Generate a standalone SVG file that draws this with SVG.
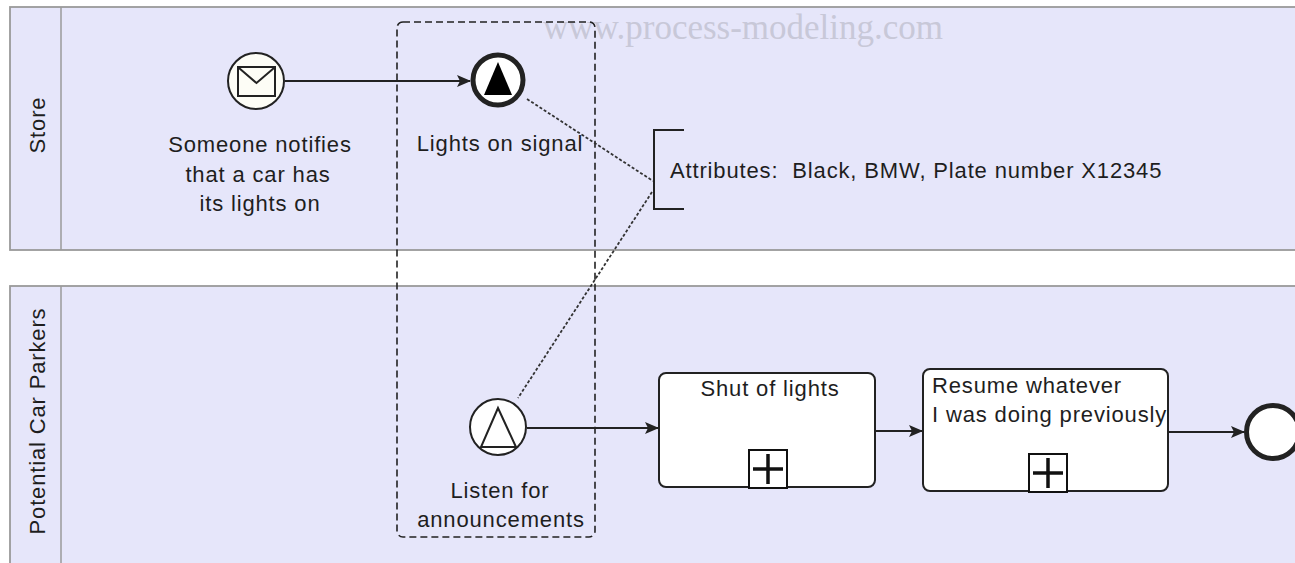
<svg xmlns="http://www.w3.org/2000/svg" width="1295" height="563" viewBox="0 0 1295 563">
<style>
.pool{fill:#e6e6fa;stroke:#9a9a9a;stroke-width:1.8}
.hdr{fill:none;stroke:#9a9a9a;stroke-width:1.5}
.t{font-family:"Liberation Sans",Arial,sans-serif;font-size:22px;letter-spacing:0.85px;fill:#1e1e1e}
.tm{text-anchor:middle}
.flow{fill:none;stroke:#222;stroke-width:2}
.assoc{fill:none;stroke:#333;stroke-width:1.8;stroke-dasharray:3 2}
.task{fill:#fff;stroke:#222;stroke-width:2}
.plus{fill:#fff;stroke:#111;stroke-width:2}
.plusl{stroke:#111;stroke-width:3.5}
</style>
<defs>
<marker id="arr" markerWidth="14" markerHeight="12" refX="13" refY="6" orient="auto" markerUnits="userSpaceOnUse">
<path d="M0,0 L14,6 L0,12 L3,6 Z" fill="#222"/>
</marker>
</defs>
<rect width="1295" height="563" fill="#fff"/>
<g id="pool-store">
<rect class="pool" x="10" y="7" width="1300" height="243"/>
<line class="hdr" x1="61" y1="7" x2="61" y2="250"/>
<text class="t tm" transform="translate(45,125) rotate(-90)">Store</text>
</g>
<g id="pool-parkers">
<rect class="pool" x="10" y="286" width="1300" height="290"/>
<line class="hdr" x1="61" y1="286" x2="61" y2="570"/>
<text class="t tm" transform="translate(45,421) rotate(-90)">Potential Car Parkers</text>
</g>
<text id="watermark" x="743" y="39" text-anchor="middle" font-family="'Liberation Serif','Times New Roman',serif" font-size="35" fill="#c8c8d8">www.process-modeling.com</text>
<g id="group">
<rect x="397" y="22" width="198" height="515" rx="6" fill="none" stroke="#222" stroke-width="1.6" stroke-dasharray="7 4"/>
</g>
<g id="connectors">
<line class="flow" x1="285" y1="81" x2="470" y2="81" marker-end="url(#arr)"/>
<line class="flow" x1="527" y1="428" x2="658" y2="428" marker-end="url(#arr)"/>
<line class="flow" x1="876" y1="431" x2="922" y2="431" marker-end="url(#arr)"/>
<line class="flow" x1="1169" y1="432" x2="1244" y2="432" marker-end="url(#arr)"/>
<line class="assoc" x1="527" y1="99" x2="653" y2="181"/>
<line class="assoc" x1="652" y1="192" x2="518" y2="398"/>
</g>
<g id="ev-message">
<circle cx="256" cy="81" r="28" fill="#fdfdf6" stroke="#222" stroke-width="2"/>
<rect x="238" y="67" width="37" height="29" fill="#fdfdf6" stroke="#222" stroke-width="2"/>
<path d="M239,68 L256.5,83 L274,68" fill="none" stroke="#222" stroke-width="2"/>
<text class="t tm" x="260" y="152">Someone notifies</text>
<text class="t tm" x="258" y="182">that a car has</text>
<text class="t tm" x="260" y="211">its lights on</text>
</g>
<g id="ev-signal-end">
<circle cx="498" cy="80" r="25" fill="#fff" stroke="#222" stroke-width="5"/>
<path d="M498,62 L484,95 L512,95 Z" fill="#000"/>
<text class="t tm" x="500" y="151">Lights on signal</text>
</g>
<g id="annotation">
<path d="M684,130 L654,130 L654,209 L684,209" fill="none" stroke="#222" stroke-width="2"/>
<text class="t" x="670" y="178" xml:space="preserve">Attributes:  Black, BMW, Plate number X12345</text>
</g>
<g id="ev-signal-start">
<circle cx="498" cy="427" r="28" fill="#fff" stroke="#222" stroke-width="2"/>
<path d="M498,408 L481,447 L516,447 Z" fill="none" stroke="#222" stroke-width="2"/>
<text class="t tm" x="500" y="498">Listen for</text>
<text class="t tm" x="501" y="527">announcements</text>
</g>
<g id="task-shut">
<rect class="task" x="659" y="373" width="216" height="114" rx="7"/>
<text class="t tm" x="770" y="396">Shut of lights</text>
<rect class="plus" x="749" y="450" width="38" height="38"/>
<line class="plusl" x1="753" y1="469" x2="783" y2="469"/>
<line class="plusl" x1="768" y1="454" x2="768" y2="484"/>
</g>
<g id="task-resume">
<rect class="task" x="923" y="369" width="245" height="122" rx="7"/>
<text class="t" x="932" y="393">Resume whatever</text>
<text class="t" x="932" y="422">I was doing previously</text>
<rect class="plus" x="1029" y="454" width="38" height="38"/>
<line class="plusl" x1="1033" y1="473" x2="1063" y2="473"/>
<line class="plusl" x1="1048" y1="458" x2="1048" y2="488"/>
</g>
<g id="ev-end">
<circle cx="1273" cy="432" r="26.5" fill="#fff" stroke="#222" stroke-width="5"/>
</g>
</svg>
